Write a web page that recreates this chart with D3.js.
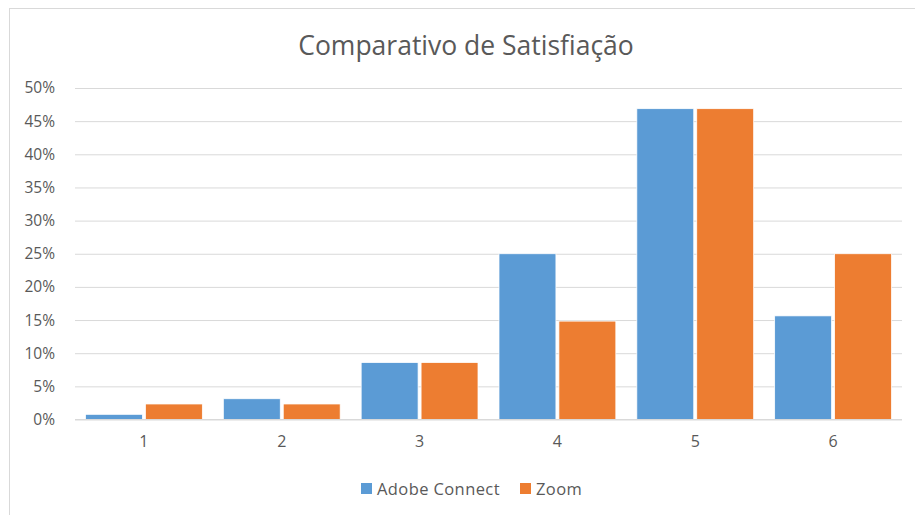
<!DOCTYPE html>
<html>
<head>
<meta charset="utf-8">
<script src="https://cdn.jsdelivr.net/npm/d3@7"></script>
<style>
  body { margin: 0; background: #fff; }
  text { font-family: "Open Sans", "Noto Sans", sans-serif; fill: #595959; }
</style>
</head>
<body>
<svg id="chart" width="915" height="515"></svg>
<script>
// data (share of answers per score)
var categories = ["1", "2", "3", "4", "5", "6"];
var seriesNames = ["Adobe Connect", "Zoom"];
var adobeConnect = [0.0078, 0.0313, 0.0859, 0.25, 0.4688, 0.1563];
var zoom = [0.0234, 0.0234, 0.0859, 0.1484, 0.4688, 0.25];
var yTicks = [0, 0.05, 0.1, 0.15, 0.2, 0.25, 0.3, 0.35, 0.4, 0.45, 0.5];
var colors = ["#5B9BD5", "#ED7D31"];

var svg = d3.select("#chart");
var margin = { top: 88, right: 13, bottom: 95.5, left: 75 };
var width = 915 - margin.left - margin.right;
var height = 515 - margin.top - margin.bottom;

// chart area border (top and left visible)
svg.append("rect").attr("x", 9.5).attr("y", 8.5).attr("width", 915).attr("height", 515)
  .attr("fill", "none").attr("stroke", "#d9d9d9");

svg.append("text").attr("x", 466).attr("y", 55).attr("text-anchor", "middle")
  .style("font-size", "26.5px").text("Comparativo de Satisfiação");

var x = d3.scaleBand().domain(categories).range([0, width]).paddingInner(0).paddingOuter(0);
var x1 = d3.scaleBand().domain(seriesNames).range([10.5, x.bandwidth() - 10.5]).paddingInner(0.05);
var y = d3.scaleLinear().domain([0, 0.5]).range([height, 0]);

var chart = svg.append("g").attr("transform", "translate(" + margin.left + "," + margin.top + ")");

// gridlines
chart.append("g").attr("class", "grid")
  .call(d3.axisLeft(y).tickValues(yTicks).tickSize(-width).tickFormat(""))
  .call(function (g) { g.select(".domain").remove(); })
  .selectAll("line").attr("stroke", "#d9d9d9").attr("stroke-width", 1);

// y axis labels
chart.append("g").attr("class", "y axis")
  .call(d3.axisLeft(y).tickValues(yTicks).tickSize(0).tickPadding(20).tickFormat(d3.format(".0%")))
  .call(function (g) { g.select(".domain").remove(); })
  .selectAll("text").style("font-size", "15.5px").attr("fill", "#595959");

// bars
var rows = categories.map(function (c, i) {
  return { cat: c, values: [adobeConnect[i], zoom[i]] };
});
var groups = chart.selectAll(".group").data(rows).enter().append("g")
  .attr("class", "group").attr("transform", function (d) { return "translate(" + x(d.cat) + ",0)"; });
groups.selectAll("rect").data(function (d) {
  return d.values.map(function (v, j) { return { name: seriesNames[j], value: v, j: j }; });
}).enter().append("rect")
  .attr("x", function (d) { return x1(d.name); })
  .attr("width", x1.bandwidth())
  .attr("y", function (d) { return y(d.value); })
  .attr("height", function (d) { return height - y(d.value); })
  .attr("fill", function (d) { return colors[d.j]; })
  .attr("stroke", "#fff").attr("stroke-width", 0.75);

// x axis baseline and labels
chart.append("line").attr("x1", 0).attr("x2", width).attr("y1", height).attr("y2", height)
  .attr("stroke", "#d9d9d9");
chart.append("g").attr("class", "x axis").attr("transform", "translate(0," + height + ")")
  .call(d3.axisBottom(x).tickSize(0).tickPadding(16))
  .call(function (g) { g.select(".domain").remove(); })
  .selectAll("text").style("font-size", "16px").attr("fill", "#595959");

// legend
var legend = svg.append("g").attr("class", "legend");
var legendX = [361, 520];
seriesNames.forEach(function (name, i) {
  legend.append("rect").attr("x", legendX[i]).attr("y", 483).attr("width", 11).attr("height", 11)
    .attr("fill", colors[i]);
  legend.append("text").attr("x", legendX[i] + 16).attr("y", 495)
    .style("font-size", "16.5px").style("letter-spacing", "0.4px").text(name);
});
</script>
</body>
</html>
